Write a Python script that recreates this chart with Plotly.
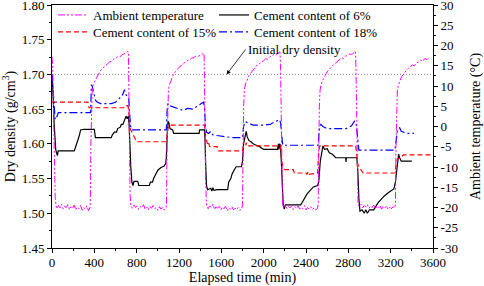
import plotly.graph_objects as go

# ---------------- data ----------------
temp_time = [0, 8, 15, 22, 30, 38,
             45, 60, 75, 90, 105, 120, 135, 150, 165, 180, 195, 210, 225, 240, 255, 270, 285, 300, 315, 330, 345, 358,
             362, 367, 373, 380, 390, 405, 420, 440, 460, 480, 500, 520, 540, 560, 580, 600, 620, 640, 660, 680, 700, 715, 722, 727, 732, 738, 745,
             760, 775, 790, 805, 820, 835, 850, 865, 880, 895, 910, 925, 940, 955, 970, 985, 1000, 1015, 1030, 1045, 1060, 1078,
             1082, 1087, 1093, 1100, 1110, 1125, 1140, 1160, 1180, 1200, 1220, 1240, 1260, 1280, 1300, 1320, 1340, 1360, 1380, 1400, 1420, 1437, 1442, 1447, 1452, 1460,
             1475, 1490, 1505, 1520, 1535, 1550, 1565, 1580, 1595, 1610, 1625, 1640, 1655, 1670, 1685, 1700, 1715, 1730, 1745, 1760, 1775, 1795,
             1800, 1805, 1811, 1818, 1828, 1843, 1858, 1878, 1898, 1918, 1938, 1958, 1978, 1998, 2018, 2038, 2058, 2078, 2098, 2118, 2138, 2155, 2160, 2165, 2170, 2178,
             2190, 2205, 2220, 2235, 2250, 2265, 2280, 2295, 2310, 2325, 2340, 2355, 2370, 2385, 2400, 2415, 2430, 2445, 2460, 2475, 2490, 2510,
             2515, 2520, 2526, 2533, 2543, 2558, 2573, 2593, 2613, 2633, 2653, 2673, 2693, 2713, 2733, 2753, 2773, 2793, 2813, 2833, 2853, 2868, 2873, 2878, 2883, 2892,
             2905, 2920, 2935, 2950, 2965, 2980, 2995, 3010, 3025, 3040, 3055, 3070, 3085, 3100, 3115, 3130, 3145, 3160, 3175, 3190, 3205, 3225, 3240,
             3245, 3250, 3256, 3263, 3273, 3288, 3303, 3323, 3343, 3363, 3383, 3403, 3423, 3443, 3463, 3483, 3503, 3523, 3543, 3558, 3570]
temp_value = [17.2, 14.0, 3.0, -10.0, -17.5, -19.6,
              -20.3, -19.5, -20.1, -19.2, -20.4, -19.7, -20.0, -19.3, -20.5, -19.8, -20.2, -19.4, -20.6, -19.9, -20.3, -19.5, -20.7, -20.0, -20.4, -19.6, -20.8, -20.1,
              -19.0, -5.0, 5.5, 9.3, 10.4, 11.2, 12.3, 13.0, 13.9, 14.3, 15.0, 15.3, 15.9, 16.1, 16.6, 16.8, 17.2, 17.1, 17.7, 17.9, 18.3, 18.6, 18.2, 5.0, -8.0, -17.0, -19.5,
              -20.2, -19.4, -20.0, -19.6, -20.5, -19.8, -20.1, -19.3, -20.4, -19.9, -20.6, -19.7, -20.2, -19.5, -20.3, -20.0, -20.7, -19.8, -20.4, -20.0, -20.6, -20.2,
              -19.0, -5.0, 5.0, 9.0, 10.3, 11.5, 12.4, 13.3, 14.0, 14.6, 15.0, 15.6, 15.8, 16.3, 16.5, 16.9, 17.0, 17.4, 17.3, 17.7, 17.9, 18.1, 12.0, -2.0, -14.0, -19.4,
              -20.3, -19.6, -20.0, -19.2, -20.5, -19.8, -20.2, -19.5, -20.6, -19.9, -20.3, -19.7, -20.8, -20.1, -20.4, -19.8, -20.6, -20.2, -20.5, -20.0, -20.7, -20.3,
              -19.0, -5.0, 5.0, 9.2, 10.5, 11.3, 12.5, 13.2, 14.0, 14.5, 15.2, 15.4, 16.0, 16.2, 16.7, 16.6, 17.2, 17.4, 17.8, 17.6, 18.2, 18.4, 14.0, 0.0, -12.0, -19.0,
              -20.0, -19.4, -20.3, -19.7, -20.1, -19.5, -20.5, -19.8, -20.2, -19.6, -20.4, -19.9, -20.3, -19.5, -20.6, -20.0, -20.4, -19.8, -20.5, -20.1, -20.6, -20.2,
              -19.0, -5.0, 5.0, 9.0, 10.4, 11.4, 12.3, 13.2, 13.9, 14.6, 15.1, 15.5, 16.0, 16.3, 16.9, 16.8, 17.4, 17.5, 17.9, 17.8, 18.3, 18.6, 13.0, 0.0, -12.0, -19.2,
              -19.8, -19.2, -20.1, -19.5, -19.9, -19.3, -20.2, -19.6, -20.0, -19.4, -20.3, -19.7, -20.1, -19.5, -20.4, -19.8, -20.2, -19.6, -20.4, -19.9, -20.3, -19.8, -20.1,
              -19.0, -5.0, 4.5, 8.8, 10.2, 11.2, 12.3, 13.0, 13.6, 14.3, 14.6, 15.2, 15.0, 15.7, 15.9, 16.4, 16.1, 16.8, 16.5, 16.9, 16.6]

c6_time = [0, 5, 12, 20, 28, 35, 45, 52, 58, 100, 150, 210, 220, 230, 240, 250, 260, 270, 300, 400, 410, 560, 570, 590, 610, 620, 645, 655, 670, 680, 700, 710, 720,
           728, 735, 745, 755, 765, 775, 810, 820, 920, 930, 950, 960, 980, 1000, 1030, 1060, 1075, 1080, 1088, 1095, 1105, 1115, 1140, 1150, 1390, 1395, 1440,
           1445, 1452, 1460, 1470, 1500, 1510, 1520, 1530, 1560, 1660, 1670, 1690, 1700, 1720, 1740, 1790, 1800, 1810, 1825, 1835, 1845, 1860, 1880, 1900, 1930, 1960,
           2000, 2130, 2140, 2145, 2150, 2158, 2165, 2175, 2185, 2195, 2205, 2350, 2370, 2390, 2410, 2440, 2470, 2510, 2520, 2535, 2550, 2560, 2575, 2600, 2620, 2650,
           2680, 2775, 2778, 2781, 2880, 2890, 2900, 2910, 2930, 2950, 2965, 2980, 3000, 3040, 3060, 3080, 3110, 3140, 3180, 3230, 3245, 3260, 3275, 3285, 3300, 3360, 3400]
c6_value = [1.700, 1.690, 1.665, 1.630, 1.600, 1.592, 1.586, 1.583, 1.590, 1.590, 1.590, 1.590, 1.594, 1.598, 1.603, 1.608, 1.613, 1.620, 1.621, 1.621, 1.609, 1.609, 1.613, 1.617, 1.617, 1.622, 1.624, 1.628, 1.628, 1.633, 1.640, 1.636, 1.640,
            1.630, 1.600, 1.565, 1.545, 1.540, 1.546, 1.546, 1.540, 1.540, 1.545, 1.545, 1.550, 1.555, 1.562, 1.566, 1.568, 1.572, 1.580, 1.610, 1.633, 1.630, 1.622, 1.620, 1.615, 1.615, 1.620, 1.620,
            1.610, 1.570, 1.540, 1.534, 1.536, 1.532, 1.537, 1.533, 1.534, 1.534, 1.545, 1.550, 1.556, 1.562, 1.567, 1.567, 1.575, 1.600, 1.612, 1.618, 1.610, 1.605, 1.603, 1.600, 1.598, 1.596,
            1.592, 1.592, 1.600, 1.592, 1.600, 1.598, 1.580, 1.540, 1.512, 1.506, 1.512, 1.512, 1.517, 1.522, 1.528, 1.533, 1.538, 1.540, 1.545, 1.575, 1.590, 1.597, 1.592, 1.593, 1.587, 1.585,
            1.580, 1.580, 1.574, 1.580, 1.580, 1.560, 1.520, 1.503, 1.505, 1.500, 1.505, 1.500, 1.505, 1.505, 1.510, 1.515, 1.520, 1.525, 1.530, 1.535, 1.545, 1.570, 1.585, 1.580, 1.575, 1.575, 1.575]

c15_time = [0, 340, 350, 690, 700, 715, 725, 735, 745, 760, 775, 790, 800, 1080, 1090, 1100, 1440, 1448, 1455, 1465, 1470, 1480, 1490, 1560, 1570, 1800,
            1808, 1830, 1835, 1840, 2160, 2170, 2180, 2200, 2280, 2290, 2400, 2410, 2420, 2430, 2510, 2520, 2530, 2870, 2880, 2890, 2905, 2920, 2940, 3240,
            3250, 3265, 3290, 3320, 3580]
c15_value = [1.660, 1.660, 1.652, 1.652, 1.655, 1.655, 1.650, 1.625, 1.620, 1.615, 1.612, 1.605, 1.603, 1.603, 1.620, 1.627, 1.627, 1.610, 1.606, 1.603, 1.598, 1.601, 1.596, 1.596, 1.590, 1.590,
             1.597, 1.597, 1.602, 1.597, 1.597, 1.575, 1.568, 1.563, 1.563, 1.558, 1.558, 1.556, 1.560, 1.556, 1.558, 1.590, 1.597, 1.597, 1.585, 1.570, 1.566, 1.562, 1.558, 1.558,
             1.570, 1.578, 1.580, 1.584, 1.584]

c18_time = [0, 8, 15, 22, 30, 40, 50, 60, 365, 372, 380, 395, 410, 430, 460, 560, 600, 640, 660, 685, 695, 710, 725, 735, 745, 760, 1080,
            1088, 1095, 1110, 1150, 1200, 1240, 1280, 1330, 1380, 1430, 1440, 1450, 1460, 1480, 1500, 1520, 1560, 1640, 1700, 1800,
            1810, 1825, 1860, 1900, 2000, 2060, 2110, 2150, 2160, 2170, 2180, 2515, 2525, 2540, 2560, 2600, 2700, 2780, 2830, 2860, 2875, 2885, 2900, 3240,
            3250, 3265, 3285, 3300, 3360, 3420]
c18_value = [1.700, 1.680, 1.655, 1.640, 1.635, 1.637, 1.643, 1.645, 1.645, 1.685, 1.683, 1.670, 1.663, 1.660, 1.658, 1.658, 1.660, 1.666, 1.668, 1.678, 1.672, 1.668, 1.665, 1.640, 1.622, 1.620, 1.620,
             1.650, 1.658, 1.655, 1.653, 1.650, 1.648, 1.651, 1.650, 1.655, 1.660, 1.655, 1.625, 1.617, 1.615, 1.618, 1.613, 1.612, 1.610, 1.609, 1.609,
             1.625, 1.632, 1.630, 1.627, 1.627, 1.628, 1.632, 1.635, 1.630, 1.610, 1.598, 1.598, 1.620, 1.628, 1.625, 1.622, 1.622, 1.622, 1.626, 1.633, 1.628, 1.610, 1.591, 1.591,
             1.605, 1.620, 1.623, 1.618, 1.615, 1.615]

initial_density = 1.70
x_ticks = [0, 400, 800, 1200, 1600, 2000, 2400, 2800, 3200, 3600]
d_ticks = [1.45, 1.50, 1.55, 1.60, 1.65, 1.70, 1.75, 1.80]
d_ticktext = ["1.45", "1.50", "1.55", "1.60", "1.65", "1.70", "1.75", "1.80"]
t_ticks = [-30, -25, -20, -15, -10, -5, 0, 5, 10, 15, 20, 25, 30]
t_ticktext = ["-30", "-25", "-20", "-15", "-10", "-5", "0", "5", "10", "15", "20", "25", "30"]

# ---------------- figure ----------------
FONT = "Liberation Serif"
fig = go.Figure()

fig.add_trace(go.Scatter(x=[0, 3600], y=[initial_density, initial_density], mode="lines",
                         line=dict(color="#888888", width=1, dash="1px,2px"),
                         showlegend=False, hoverinfo="skip"))
fig.add_trace(go.Scatter(x=temp_time, y=temp_value, mode="lines", name="Ambient temperature",
                         line=dict(color="#FF00FF", width=1, dash="7px,2px,2px,2px,2px,2px"),
                         yaxis="y2", legend="legend"))
fig.add_trace(go.Scatter(x=c6_time, y=c6_value, mode="lines", name="Cement content of 6%",
                         line=dict(color="black", width=1.2), legend="legend2"))
fig.add_trace(go.Scatter(x=c15_time, y=c15_value, mode="lines", name="Cement content of 15%",
                         line=dict(color="#FF0000", width=1.2, dash="5px,3px"), legend="legend3"))
fig.add_trace(go.Scatter(x=c18_time, y=c18_value, mode="lines", name="Cement content of 18%",
                         line=dict(color="#0000FF", width=1.2, dash="8px,3px,2px,3px"), legend="legend4"))

axis_common = dict(showline=True, linecolor="black", linewidth=1, ticks="outside", ticklen=4,
                   tickcolor="black", showgrid=False, zeroline=False, ticklabeloverflow="allow",
                   tickfont=dict(family=FONT, size=13, color="black"))


def legend_box(xpx, ytop_px):
    # position of a one-item legend, given in pixels of the figure
    return dict(x=(xpx - 52) / 381, y=1 - (ytop_px - 5) / 243, xanchor="left", yanchor="top",
                bgcolor="rgba(0,0,0,0)", font=dict(family=FONT, size=13), borderwidth=0)


fig.update_layout(
    width=484, height=286,
    margin=dict(l=52, r=51, t=5, b=38, autoexpand=False),
    paper_bgcolor="white", plot_bgcolor="white",
    font=dict(family=FONT, size=13, color="black"),
    xaxis=dict(range=[0, 3600], tickvals=x_ticks, mirror=True, automargin=True, ticklabelstandoff=-2,
               minor=dict(ticks="outside", ticklen=2, tickcolor="black", dtick=200, tick0=0),
               title=dict(text="Elapsed time (min)", font=dict(family=FONT, size=14), standoff=3),
               **axis_common),
    yaxis=dict(range=[1.45, 1.80], tickmode="array", tickvals=d_ticks, ticktext=d_ticktext, automargin=False,
               minor=dict(ticks="outside", ticklen=2, tickcolor="black", tickmode="linear", dtick=0.025, tick0=1.45),
               title=dict(text="Dry density (g/cm<sup>3</sup>)", font=dict(family=FONT, size=14)),
               **axis_common),
    yaxis2=dict(range=[-30, 30], overlaying="y", side="right", tickmode="array", automargin=False,
                tickvals=t_ticks, ticktext=t_ticktext,
                minor=dict(ticks="outside", ticklen=2, tickcolor="black", tickmode="linear", dtick=2.5, tick0=-30),
                title=dict(text="Ambient temperature (°C)", font=dict(family=FONT, size=14)),
                **axis_common),
    legend=legend_box(53, 0),
    legend2=legend_box(214, 0),
    legend3=legend_box(53, 17),
    legend4=legend_box(214, 17),
    showlegend=True,
)

fig.add_annotation(x=1650, y=1.70, xref="x", yref="y", text="Initial dry density", showarrow=True,
                   ax=19, ay=-25, xanchor="left", yanchor="middle",
                   arrowhead=2, arrowsize=1, arrowwidth=0.8, arrowcolor="black",
                   font=dict(family=FONT, size=13))

fig.write_html("out.html", config={"displayModeBar": False},
               post_script="document.body.style.margin='0';")
